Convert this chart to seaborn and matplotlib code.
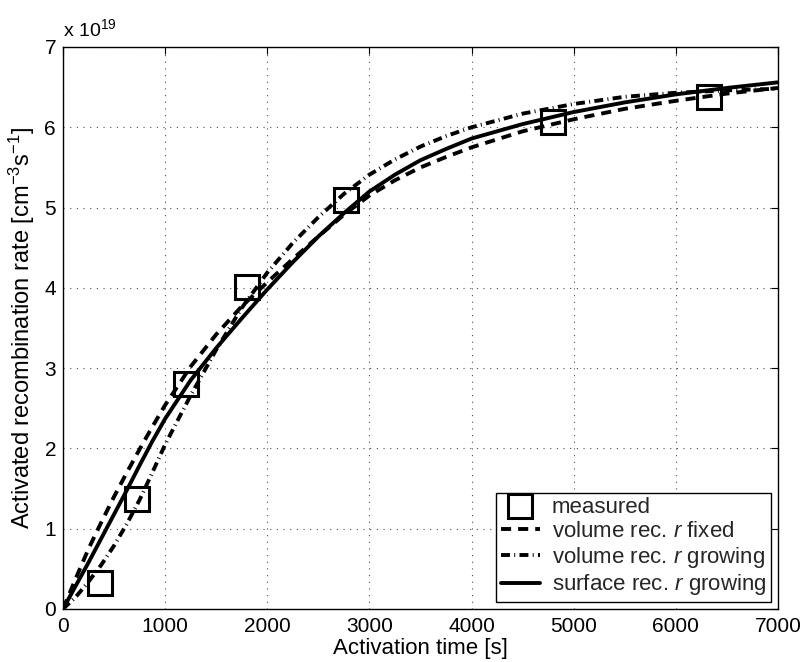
import matplotlib
matplotlib.use("Agg")
import matplotlib.pyplot as plt
import seaborn as sns
import pandas as pd

# ---- data (rates in units of 1e19 cm^-3 s^-1) ----
t_meas = [360, 720, 1200, 1800, 2770, 4800, 6320]
rate_meas = [0.32, 1.37, 2.80, 4.01, 5.10, 6.07, 6.38]

t_fit = [0, 125, 250, 375, 500, 625, 750, 875, 1000,
         1250, 1500, 1750, 2000, 2250, 2500, 2750, 3000, 3250, 3500, 3750, 4000,
         4500, 5000, 5500, 6000, 6500, 7000]
vol_fixed = [0, 0.38, 0.75, 1.08, 1.40, 1.70, 1.99, 2.27, 2.54,
             3.02, 3.42, 3.77, 4.07, 4.36, 4.64, 4.91, 5.15, 5.34, 5.50, 5.63, 5.75,
             5.95, 6.10, 6.23, 6.33, 6.42, 6.49]
vol_growing = [0, 0.15, 0.34, 0.55, 0.79, 1.06, 1.36, 1.70, 2.05,
               2.66, 3.23, 3.75, 4.19, 4.56, 4.88, 5.17, 5.41, 5.60, 5.76, 5.89, 6.00,
               6.17, 6.29, 6.38, 6.43, 6.46, 6.48]
surf_growing = [0, 0.29, 0.58, 0.88, 1.18, 1.48, 1.79, 2.09, 2.37,
                2.85, 3.25, 3.62, 3.98, 4.32, 4.64, 4.93, 5.20, 5.41, 5.59, 5.73, 5.86,
                6.04, 6.19, 6.31, 6.41, 6.49, 6.56]

x_ticks = [0, 1000, 2000, 3000, 4000, 5000, 6000, 7000]
y_ticks = [0, 1, 2, 3, 4, 5, 6, 7]

labels = ["measured", r"volume rec. $\mathit{r}$ fixed",
          r"volume rec. $\mathit{r}$ growing", r"surface rec. $\mathit{r}$ growing"]

df_meas = pd.DataFrame({"t": t_meas, "rate": rate_meas})
df_fit = pd.DataFrame({"t": t_fit, "fixed": vol_fixed,
                       "growing": vol_growing, "surface": surf_growing})

sns.set_theme(style="white")
plt.rcParams["font.family"] = ["Liberation Sans", "DejaVu Sans"]
plt.rcParams["mathtext.fontset"] = "custom"
plt.rcParams["mathtext.rm"] = "Liberation Sans"
plt.rcParams["mathtext.it"] = "Liberation Sans:italic"
plt.rcParams["mathtext.default"] = "regular"

fig = plt.figure(figsize=(8.07, 6.62), dpi=100)
ax = fig.add_axes([63 / 807, 1 - 609 / 662, (778 - 63) / 807, (609 - 47) / 662])

lw = 2.8
sns.lineplot(data=df_meas, x="t", y="rate", ax=ax, linestyle="none",
             marker="s", markersize=17, markerfacecolor="none",
             markeredgecolor="black", markeredgewidth=2.2, color="black",
             label=labels[0])
sns.lineplot(data=df_fit, x="t", y="fixed", ax=ax, color="black", lw=lw,
             linestyle=(0, (2.6, 1.8)), label=labels[1])
sns.lineplot(data=df_fit, x="t", y="growing", ax=ax, color="black", lw=lw,
             linestyle=(0, (2.3, 1.1, 0.25, 1.1)), label=labels[2])
sns.lineplot(data=df_fit, x="t", y="surface", ax=ax, color="black", lw=lw,
             linestyle="-", label=labels[3])

for ln in ax.get_lines():
    ln.set_dash_capstyle("butt")

ax.set_xlim(0, 7000)
ax.set_ylim(0, 7)
ax.set_xticks(x_ticks)
ax.set_yticks(y_ticks)
ax.grid(True, color="0.3", linestyle=(0, (1, 5)), linewidth=0.8)
ax.set_axisbelow(True)

for s in ax.spines.values():
    s.set_color("black")
    s.set_linewidth(1.0)
ax.tick_params(direction="in", length=5, width=0.8, colors="black",
               labelsize=15, top=True, right=True)
ax.tick_params(axis="x", pad=6)
ax.tick_params(axis="y", pad=5)

ax.set_xlabel("Activation time [s]", fontsize=16, color="black")
ax.xaxis.set_label_coords(0.5, -0.052)
ax.set_ylabel("Activated recombination rate [cm$^{-3}$s$^{-1}$]",
              fontsize=17, color="black")
ax.yaxis.set_label_coords(-0.036, 0.5)
ax.text(0.0, 1.012, "x 10$^{19}$", transform=ax.transAxes, ha="left",
        va="bottom", fontsize=14, color="black")

leg = ax.legend(loc="lower right", fontsize=16, frameon=True, fancybox=False,
                edgecolor="black", framealpha=1, borderaxespad=0.3,
                handlelength=1.75, handletextpad=0.55, labelspacing=0.12,
                borderpad=0.22)
leg.get_frame().set_linewidth(1.0)

fig.savefig("out.png", dpi=100)
